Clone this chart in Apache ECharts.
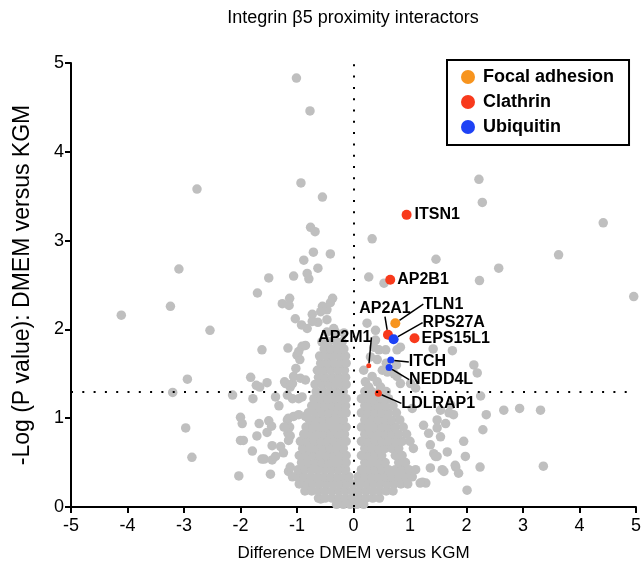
<!DOCTYPE html>
<html><head><meta charset="utf-8">
<script src="https://cdn.jsdelivr.net/npm/echarts/dist/echarts.min.js"></script>
<style>html,body{margin:0;padding:0;background:#fff}#c{width:641px;height:574px}</style>
</head><body><div id="c"></div>
<script>
// ---------- DATA ----------
const titleText = 'Integrin \u03b25 proximity interactors';
const xName = 'Difference DMEM versus KGM';
const yName = '-Log (P value): DMEM versus KGM';
const xMin = -5, xMax = 5, yMin = 0, yMax = 5;
const pThreshold = 1.3;

// highlighted proteins
const focalNames = ['TLN1'];
const focalX = [0.74];
const focalY = [2.07];
const clathrinNames = ['ITSN1', 'AP2B1', 'AP2A1', 'EPS15L1', 'AP2M1', 'LDLRAP1'];
const clathrinX = [0.94, 0.65, 0.61, 1.08, 0.27, 0.44];
const clathrinY = [3.29, 2.56, 1.94, 1.90, 1.59, 1.28];
const ubiquitinNames = ['RPS27A', 'ITCH', 'NEDD4L'];
const ubiquitinX = [0.71, 0.66, 0.63];
const ubiquitinY = [1.89, 1.655, 1.57];

// grey proteins
const greyUpperLeft = [
  [-1.01,4.83],[-0.77,4.46],[-2.77,3.58],[-0.93,3.65],[-0.55,3.49],[-0.76,3.15],[-0.68,3.10],
  [-0.71,2.87],[-0.41,2.85],[-0.88,2.78],[-3.09,2.68],[-1.50,2.58],[-1.06,2.60],[-0.82,2.63],
  [-0.79,2.57],[-0.63,2.69],[-1.70,2.41],[-1.13,2.35],[-0.37,2.35]
];
const greyLeftScatter = [
  [-4.11,2.16],[-3.24,2.26],[-2.54,1.99],[-2.94,1.44],[-3.20,1.29],[-2.97,0.89],[-2.86,0.56],[-2.14,1.26],[-2.03,0.35],
  [-1.82,1.46],[-1.72,1.37],[-1.66,1.35],[-1.53,1.40],[-1.78,1.22],[-1.38,1.24],[-1.32,1.14],
  [-2.00,1.01],[-1.97,0.94],[-2.00,0.75],[-1.95,0.75],[-1.79,0.63],[-1.71,0.80],[-1.67,0.94],[-1.50,0.97],
  [-1.45,0.91],[-1.53,0.84],[-1.44,0.69],[-1.62,0.54],[-1.58,0.54],[-1.44,0.53],[-1.47,0.37],[-1.38,0.57],
  [-1.29,0.68],[-1.24,0.61],[-1.17,0.98],[-1.13,0.90],[-1.16,0.83],[-1.12,0.80],[-1.15,0.75],[-1.23,0.90],
  [-1.15,1.00],[-1.06,1.02],[-0.97,1.04],[-0.85,1.02],[-1.22,1.41],[-1.20,1.39],[-1.12,1.35],[-1.08,1.39],
  [-1.08,1.22],[-1.06,1.47],[-1.02,1.56],[-1.00,1.71],[-0.95,1.66],[-1.16,1.79],[-0.97,1.75],[-0.91,1.81],
  [-0.85,1.82],[-0.94,1.45],[-0.85,1.43],[-0.97,1.22],[-0.91,1.24],[-1.17,1.26],[-1.62,1.77],[-1.03,2.12],
  [-0.92,2.05],[-1.26,2.29],[-1.14,2.27],[-0.73,2.17],[-0.63,2.08],[-0.47,2.22],[-0.41,2.30],[-0.55,2.26],
  [-0.47,2.11],[-0.35,2.01],[-0.58,2.20],[-0.73,2.09],[-0.82,2.01],[-0.47,1.97],[-0.32,1.97],[-0.17,1.96],
  [-0.97,0.40],[-1.15,0.40],[-0.88,0.47],[-0.82,0.23],[-1.12,0.45],[-1.08,0.34],[-0.58,0.09]
];
const greyCoreBottom = [
  [-0.30,0.03],[-0.18,0.03],[-0.06,0.03],[0.06,0.03],[0.18,0.03],
  [-0.62,0.10],[-0.50,0.10],[-0.38,0.10],[-0.26,0.10],[-0.14,0.10],[-0.02,0.10],[0.10,0.10],[0.22,0.10],[0.34,0.10],[0.46,0.10],
  [-0.86,0.18],[-0.74,0.18],[-0.62,0.18],[-0.50,0.18],[-0.38,0.18],[-0.26,0.18],[-0.14,0.18],[-0.02,0.18],[0.10,0.18],[0.22,0.18],[0.34,0.18],[0.46,0.18],[0.58,0.18],[0.70,0.18],
  [-0.96,0.26],[-0.84,0.26],[-0.72,0.26],[-0.60,0.26],[-0.48,0.26],[-0.36,0.26],[-0.24,0.26],[-0.12,0.26],[0.00,0.26],[0.12,0.26],[0.24,0.26],[0.36,0.26],[0.48,0.26],[0.60,0.26],[0.72,0.26],[0.84,0.26],[0.96,0.26],
  [-1.00,0.34],[-0.88,0.34],[-0.76,0.34],[-0.64,0.34],[-0.52,0.34],[-0.40,0.34],[-0.28,0.34],[-0.16,0.34],[-0.08,0.34],
  [0.08,0.34],[0.20,0.34],[0.32,0.34],[0.44,0.34],[0.56,0.34],[0.68,0.34],[0.80,0.34],[0.92,0.34],[1.04,0.34]
];
const greyLeftCore = [
  [-0.98,0.42],[-0.86,0.42],[-0.74,0.42],[-0.62,0.42],[-0.50,0.42],[-0.38,0.42],[-0.26,0.42],[-0.14,0.42],
  [-0.92,0.50],[-0.80,0.50],[-0.68,0.50],[-0.56,0.50],[-0.44,0.50],[-0.32,0.50],[-0.20,0.50],[-0.13,0.50],
  [-0.96,0.58],[-0.84,0.58],[-0.72,0.58],[-0.60,0.58],[-0.48,0.58],[-0.36,0.58],[-0.24,0.58],[-0.13,0.58],
  [-0.90,0.66],[-0.78,0.66],[-0.66,0.66],[-0.54,0.66],[-0.42,0.66],[-0.30,0.66],[-0.18,0.66],
  [-0.94,0.74],[-0.82,0.74],[-0.70,0.74],[-0.58,0.74],[-0.46,0.74],[-0.34,0.74],[-0.22,0.74],[-0.13,0.74],
  [-0.88,0.82],[-0.76,0.82],[-0.64,0.82],[-0.52,0.82],[-0.40,0.82],[-0.28,0.82],[-0.16,0.82],
  [-0.84,0.90],[-0.72,0.90],[-0.60,0.90],[-0.48,0.90],[-0.36,0.90],[-0.24,0.90],[-0.13,0.90],
  [-0.78,0.98],[-0.66,0.98],[-0.54,0.98],[-0.42,0.98],[-0.30,0.98],[-0.18,0.98],
  [-0.80,1.06],[-0.68,1.06],[-0.56,1.06],[-0.44,1.06],[-0.32,1.06],[-0.20,1.06],[-0.13,1.06],
  [-0.74,1.14],[-0.62,1.14],[-0.50,1.14],[-0.38,1.14],[-0.26,1.14],[-0.14,1.14],
  [-0.70,1.22],[-0.58,1.22],[-0.46,1.22],[-0.34,1.22],[-0.22,1.22],[-0.13,1.22],
  [-0.66,1.30],[-0.54,1.30],[-0.42,1.30],[-0.30,1.30],[-0.18,1.30],
  [-0.68,1.38],[-0.56,1.38],[-0.44,1.38],[-0.32,1.38],[-0.20,1.38],[-0.13,1.38],
  [-0.62,1.46],[-0.50,1.46],[-0.38,1.46],[-0.26,1.46],[-0.14,1.46],
  [-0.64,1.54],[-0.52,1.54],[-0.40,1.54],[-0.28,1.54],[-0.16,1.54],
  [-0.58,1.62],[-0.46,1.62],[-0.34,1.62],[-0.22,1.62],[-0.13,1.62],
  [-0.60,1.70],[-0.48,1.70],[-0.36,1.70],[-0.24,1.70],[-0.14,1.70],
  [-0.52,1.78],[-0.40,1.78],[-0.28,1.78],[-0.17,1.78],
  [-0.56,1.86],[-0.44,1.86],[-0.30,1.86],[-0.20,1.86]
];
const greyRightCore = [
  [0.14,0.42],[0.26,0.42],[0.38,0.42],[0.50,0.42],[0.62,0.42],[0.74,0.42],[0.86,0.42],[0.98,0.42],[1.10,0.42],
  [0.20,0.50],[0.32,0.50],[0.44,0.50],[0.56,0.50],[0.80,0.50],[0.92,0.50],
  [0.14,0.58],[0.26,0.58],[0.38,0.58],[0.50,0.58],[0.74,0.58],[0.86,0.58],
  [0.20,0.66],[0.32,0.66],[0.44,0.66],[0.56,0.66],[0.68,0.66],[0.80,0.66],[1.06,0.66],
  [0.14,0.74],[0.26,0.74],[0.38,0.74],[0.50,0.74],[0.62,0.74],[0.74,0.74],[0.86,0.74],[1.00,0.74],
  [0.20,0.82],[0.32,0.82],[0.44,0.82],[0.56,0.82],[0.68,0.82],[0.80,0.82],[0.94,0.82],
  [0.14,0.90],[0.26,0.90],[0.38,0.90],[0.50,0.90],[0.62,0.90],[0.74,0.90],[0.88,0.90],
  [0.20,0.98],[0.32,0.98],[0.44,0.98],[0.56,0.98],[0.68,0.98],[0.82,0.98],
  [0.14,1.06],[0.26,1.06],[0.38,1.06],[0.50,1.06],[0.62,1.06],[0.76,1.06],
  [0.20,1.14],[0.32,1.14],[0.44,1.14],[0.56,1.14],[0.70,1.14],
  [0.14,1.22],[0.26,1.22],[0.38,1.22],[0.50,1.22],[0.62,1.22],
  [0.20,1.30],[0.32,1.30],[0.46,1.30],[0.58,1.30]
];
const greyRightUpper = [
  [0.24,2.07],[0.39,1.99],[0.36,1.80],[0.39,1.88],[0.45,1.77],[0.57,1.77],[0.42,1.66],[0.51,1.54],
  [0.33,1.47],[0.42,1.41],[0.21,1.41],[0.27,1.35],[0.48,1.35],[0.54,1.22],[0.33,1.20],[0.24,1.13],
  [0.18,1.54],[0.30,1.69],[0.83,1.80],[0.77,1.47],[0.83,1.39],[1.01,1.39],[1.10,1.34],[0.77,1.77],
  [0.58,1.62],[0.76,1.60],[0.60,1.52],[0.72,1.50],
  [0.33,3.02],[0.27,2.59],[0.54,2.52]
];
const greyRightScatter = [
  [1.48,0.98],[1.66,0.62],[1.36,0.44],[1.81,0.45],[2.01,0.19],[1.54,1.09],[1.72,1.15],[1.54,0.79],
  [1.86,0.38],[1.04,1.11],[1.69,1.06],[2.35,1.04],[2.66,1.09],[2.94,1.11],[3.31,1.09],[2.29,0.87],
  [1.95,0.74],[1.98,0.57],[2.24,0.45],[3.36,0.46],[1.57,0.42],[1.42,0.60],[1.48,0.57],[1.22,0.28],
  [1.28,0.27],[1.36,0.70],[1.33,0.83],[1.24,0.92],[1.48,0.89],[2.25,1.25],[1.77,1.04],[1.63,0.94],
  [1.45,0.57],[1.80,0.47],[1.60,0.40],[1.18,0.27],
  [2.22,3.69],[2.28,3.43],[4.42,3.20],[1.46,2.79],[3.63,2.84],[2.57,2.69],[2.23,2.55],[4.96,2.37],
  [1.41,1.78],[1.75,1.76],[2.13,1.60],[2.19,1.51]
];

// ---------- STYLE / LAYOUT ----------
const FONT = '"Liberation Sans", Arial, Helvetica, sans-serif';
const GREY = '#BFBFBF', ORANGE = '#F7941E', RED = '#F83A1C', BLUE = '#1E42F5';
// label offsets in pixels from the point centre: [dx, dy, align, showLine]
const labelOffsets = {
  ITSN1: [8, 0, 'left', false], AP2B1: [7, 0, 'left', false], EPS15L1: [7, 0, 'left', false],
  TLN1: [28, -19, 'left', true], RPS27A: [29, -16.5, 'left', true], AP2A1: [-3, -26, 'center', true],
  AP2M1: [-24, -28.5, 'center', true], ITCH: [18, 2, 'left', true], NEDD4L: [20, 12, 'left', true],
  LDLRAP1: [23, 10, 'left', true]
};
const symbolSizes = { ITCH: 7, NEDD4L: 7, AP2M1: 5, LDLRAP1: 7 };

function buildItems(names, xs, ys) {
  return names.map((n, i) => {
    const o = labelOffsets[n];
    return {
      name: n,
      value: [xs[i], ys[i]],
      symbolSize: symbolSizes[n] || 10,
      label: { show: true, formatter: n },
      labelLine: { show: o[3], lineStyle: { color: '#000', width: 1.5 } }
    };
  });
}
function makeLayout(names) {
  return function (p) {
    const o = labelOffsets[names[p.dataIndex]];
    return {
      x: p.rect.x + p.rect.width / 2 + o[0],
      y: p.rect.y + p.rect.height / 2 + o[1],
      align: o[2], verticalAlign: 'middle'
    };
  };
}
const labelStyle = { show: true, color: '#000', fontSize: 16, fontWeight: 'bold', fontFamily: FONT };

const greyAll = [].concat(greyUpperLeft, greyLeftScatter, greyCoreBottom, greyLeftCore,
  greyRightCore, greyRightUpper, greyRightScatter);

const chart = echarts.init(document.getElementById('c'), null, { renderer: 'canvas' });
chart.setOption({
  animation: false,
  backgroundColor: '#fff',
  title: {
    text: titleText, left: 348, top: 4, textAlign: 'center',
    textStyle: { fontSize: 18, fontWeight: 'normal', color: '#000', fontFamily: FONT }
  },
  legend: {
    data: ['Focal adhesion', 'Clathrin', 'Ubiquitin'],
    orient: 'vertical', left: 447, top: 60,
    padding: [8, 15, 9, 14], itemWidth: 20, itemHeight: 14, itemGap: 7,
    icon: 'circle', borderColor: '#000', borderWidth: 2, backgroundColor: '#fff',
    selectedMode: false,
    textStyle: { fontSize: 18, fontWeight: 'bold', color: '#000', fontFamily: FONT }
  },
  grid: { left: 71, right: 5, top: 63, bottom: 67, containLabel: false, outerBoundsMode: 'none' },
  xAxis: {
    type: 'value', min: xMin, max: xMax, interval: 1,
    name: xName, nameLocation: 'middle', nameGap: 38,
    nameTextStyle: { fontSize: 17, color: '#000', fontFamily: FONT },
    axisLine: { onZero: false, lineStyle: { color: '#000', width: 2 } },
    axisTick: { show: true, length: 6, lineStyle: { color: '#000', width: 2 } },
    axisLabel: { fontSize: 18, color: '#000', fontFamily: FONT, margin: 10, showMinLabel: true, showMaxLabel: true },
    splitLine: { show: false }
  },
  yAxis: {
    type: 'value', min: yMin, max: yMax, interval: 1,
    name: yName, nameLocation: 'middle', nameGap: 37, nameRotate: 90,
    nameTextStyle: { fontSize: 23, color: '#000', fontFamily: FONT },
    axisLine: { onZero: false, lineStyle: { color: '#000', width: 2 } },
    axisTick: { show: true, length: 6, lineStyle: { color: '#000', width: 2 } },
    axisLabel: { fontSize: 18, color: '#000', fontFamily: FONT, margin: 7, showMinLabel: true, showMaxLabel: true },
    splitLine: { show: false }
  },
  series: [
    {
      name: 'Other', type: 'scatter', data: greyAll, symbolSize: 9.5,
      itemStyle: { color: GREY, opacity: 1 }, silent: true, z: 2,
      markLine: {
        silent: true, symbol: 'none', label: { show: false }, animation: false,
        lineStyle: { color: '#000', width: 2, type: [2, 9.3] },
        data: [{ yAxis: pThreshold }, { xAxis: 0 }]
      }
    },
    {
      name: 'Focal adhesion', type: 'scatter', z: 3, silent: true,
      itemStyle: { color: ORANGE, opacity: 1 },
      data: buildItems(focalNames, focalX, focalY),
      label: labelStyle, labelLayout: makeLayout(focalNames)
    },
    {
      name: 'Clathrin', type: 'scatter', z: 3, silent: true,
      itemStyle: { color: RED, opacity: 1 },
      data: buildItems(clathrinNames, clathrinX, clathrinY),
      label: labelStyle, labelLayout: makeLayout(clathrinNames)
    },
    {
      name: 'Ubiquitin', type: 'scatter', z: 3, silent: true,
      itemStyle: { color: BLUE, opacity: 1 },
      data: buildItems(ubiquitinNames, ubiquitinX, ubiquitinY),
      label: labelStyle, labelLayout: makeLayout(ubiquitinNames)
    }
  ]
});
</script></body></html>
